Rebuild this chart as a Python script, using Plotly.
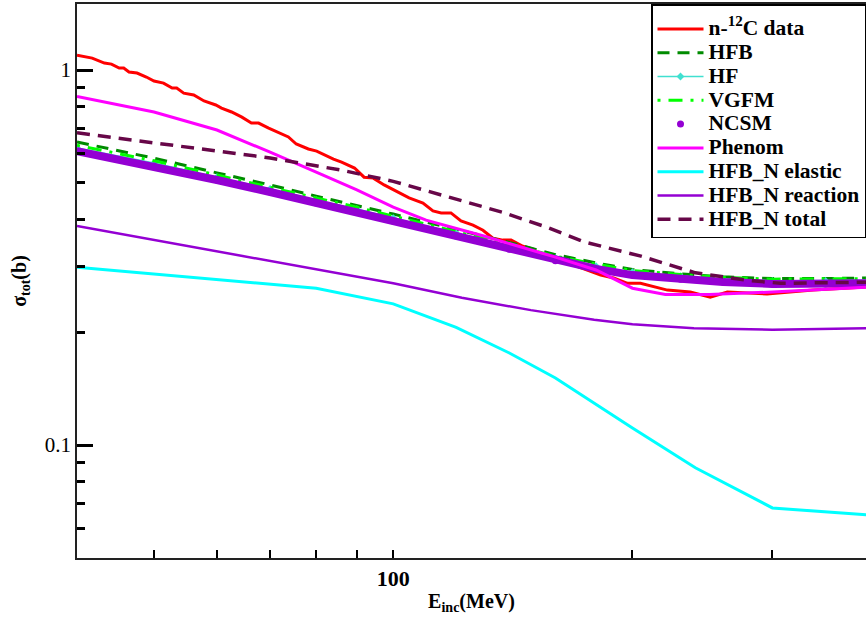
import math
import plotly.graph_objects as go

# ---------------- data ----------------
data_E = [40.0, 41.8, 43.3, 44.2, 45.2, 45.8, 46.5, 47.6, 48.9, 50.0, 51.4, 52.7, 53.4, 54.5,
          56.1, 57.8, 59.8, 60.8, 62.6, 64.5, 66.3, 67.7, 69.7, 71.7, 73.8, 75.5, 78.2, 80.1,
          82.4, 84.1, 86.1, 89.4, 91.9, 94.4, 97.4, 101.7, 104.7, 109.0, 112.2, 114.9, 118.2,
          121.7, 126.0, 129.7, 133.5, 137.4, 140.7, 145.6, 149.9, 153.4, 159.2, 163.9, 168.7,
          175.7, 182.4, 189.4, 197.2, 204.7, 221.3, 236.5, 250.6, 263.3, 295.4, 337.6, 393.4]
data_sig = [1.096, 1.076, 1.044, 1.037, 1.012, 1.012, 0.988, 0.982, 0.958, 0.935, 0.923, 0.895,
            0.895, 0.868, 0.858, 0.827, 0.807, 0.792, 0.773, 0.749, 0.722, 0.722, 0.700, 0.683,
            0.663, 0.635, 0.616, 0.608, 0.590, 0.579, 0.568, 0.548, 0.518, 0.515, 0.494, 0.470,
            0.456, 0.442, 0.421, 0.416, 0.416, 0.396, 0.386, 0.374, 0.356, 0.352, 0.352, 0.339,
            0.333, 0.321, 0.315, 0.310, 0.302, 0.293, 0.284, 0.279, 0.270, 0.270, 0.259, 0.256,
            0.248, 0.256, 0.253, 0.259, 0.264]

model_E = [40, 50, 60, 70, 80, 90, 100, 120, 140, 160, 180, 200, 230, 260, 300, 350, 400]
hfb_sig = [0.643, 0.582, 0.532, 0.494, 0.461, 0.436, 0.413, 0.376, 0.347, 0.322, 0.306, 0.294,
           0.286, 0.281, 0.278, 0.278, 0.279]
hf_sig = [0.620, 0.565, 0.518, 0.482, 0.450, 0.426, 0.403, 0.367, 0.339, 0.315, 0.300, 0.289,
          0.282, 0.277, 0.274, 0.274, 0.275]
vgfm_sig = [0.630, 0.573, 0.525, 0.488, 0.456, 0.431, 0.408, 0.372, 0.343, 0.319, 0.304, 0.292,
            0.285, 0.280, 0.277, 0.277, 0.278]
ncsm_sig = [0.608, 0.555, 0.509, 0.473, 0.442, 0.418, 0.396, 0.361, 0.333, 0.310, 0.295, 0.284,
            0.277, 0.272, 0.269, 0.269, 0.270]

phenom_E = [40, 50, 60, 70, 80, 90, 100, 110, 130, 160, 180, 200, 220, 250, 300, 400]
phenom_sig = [0.850, 0.773, 0.692, 0.604, 0.534, 0.479, 0.431, 0.398, 0.361, 0.317, 0.293,
              0.262, 0.252, 0.252, 0.256, 0.264]

elastic_E = [40, 80, 100, 120, 140, 160, 200, 240, 300, 400]
elastic_sig = [0.298, 0.262, 0.238, 0.206, 0.176, 0.151, 0.111, 0.087, 0.068, 0.065]

reaction_E = [40, 57, 86, 100, 122, 149, 179, 200, 239, 300, 400]
reaction_sig = [0.384, 0.335, 0.287, 0.270, 0.247, 0.229, 0.216, 0.210, 0.205, 0.203, 0.205]

total_E = [40, 57, 70, 86, 100, 137, 156, 174, 205, 240, 279, 307, 400]
total_sig = [0.680, 0.619, 0.583, 0.541, 0.505, 0.418, 0.381, 0.348, 0.319, 0.288, 0.275,
             0.270, 0.272]

x_major = [100]
x_minor = [50, 60, 70, 80, 90, 200, 300]
y_major = [0.1, 1]
y_major_text = ["0.1", "1"]
y_minor = [0.05, 0.06, 0.07, 0.08, 0.09, 0.2, 0.3, 0.4, 0.5, 0.6, 0.7, 0.8, 0.9]

# ---------------- figure ----------------
FONT = "Liberation Serif, Times New Roman, serif"


def lab(t):
    return '<span style="font-size:21.5px">' + t + '</span>'


fig = go.Figure()
fig.add_trace(go.Scatter(x=data_E, y=data_sig, mode="lines", name=lab("n-<sup>12</sup>C data"),
                         line=dict(color="#ff0000", width=3)))
fig.add_trace(go.Scatter(x=model_E, y=hfb_sig, mode="lines", name=lab("HFB"),
                         line=dict(color="#008b00", width=3, dash="12px,8px")))
fig.add_trace(go.Scatter(x=model_E, y=hf_sig, mode="lines+markers", name=lab("HF"),
                         line=dict(color="#40e0d0", width=1.5),
                         marker=dict(symbol="diamond", size=6, color="#40e0d0")))
fig.add_trace(go.Scatter(x=model_E, y=vgfm_sig, mode="lines", name=lab("VGFM"),
                         line=dict(color="#00ff00", width=3, dash="3px,8px,14px,8px")))
fig.add_trace(go.Scatter(x=model_E, y=ncsm_sig, mode="lines", showlegend=False,
                         legendgroup="ncsm", line=dict(color="#9400d3", width=8),
                         hoverinfo="skip"))
fig.add_trace(go.Scatter(x=model_E, y=ncsm_sig, mode="markers", name=lab("NCSM"),
                         legendgroup="ncsm",
                         marker=dict(symbol="circle", size=7, color="#9400d3")))
fig.add_trace(go.Scatter(x=phenom_E, y=phenom_sig, mode="lines", name=lab("Phenom"),
                         line=dict(color="#ff00ff", width=3)))
fig.add_trace(go.Scatter(x=elastic_E, y=elastic_sig, mode="lines", name=lab("HFB_N elastic"),
                         line=dict(color="#00ffff", width=3)))
fig.add_trace(go.Scatter(x=reaction_E, y=reaction_sig, mode="lines", name=lab("HFB_N reaction"),
                         line=dict(color="#9400d3", width=2.5)))
fig.add_trace(go.Scatter(x=total_E, y=total_sig, mode="lines", name=lab("HFB_N total"),
                         line=dict(color="#670748", width=3.5, dash="13px,8px")))

fig.update_layout(
    width=866, height=618,
    margin=dict(l=77, r=0, t=4, b=60),
    paper_bgcolor="white", plot_bgcolor="white",
    font=dict(family=FONT, color="black"),
    showlegend=True,
    legend=dict(x=1, y=1, xanchor="right", yanchor="top",
                bordercolor="black", borderwidth=1.5, bgcolor="white",
                font=dict(family=FONT, size=16, weight="bold"),
                title=dict(text=" ", font=dict(family=FONT, size=5)),
                itemwidth=46, tracegroupgap=0),
    xaxis=dict(type="log", range=[math.log10(40), math.log10(393.5)],
               showline=True, linecolor="#222", linewidth=1.5, mirror=True,
               showgrid=False, zeroline=False,
               tickmode="array", tickvals=x_major, ticktext=["100"],
               ticks="inside", ticklen=8, tickwidth=2, tickcolor="black",
               tickfont=dict(family=FONT, size=22, weight="bold"),
               minor=dict(tickmode="array", tickvals=x_minor, ticks="inside",
                          ticklen=8, tickwidth=2, tickcolor="black", showgrid=False),
               title=dict(text="E<sub>inc</sub>(MeV)", standoff=4,
                          font=dict(family=FONT, size=20, weight="bold")),
               automargin=False),
    yaxis=dict(type="log", range=[math.log10(0.05), math.log10(1.5)],
               showline=True, linecolor="#222", linewidth=1.5, mirror=False,
               showgrid=False, zeroline=False,
               tickmode="array", tickvals=y_major, ticktext=y_major_text,
               ticks="inside", ticklen=16, tickwidth=2.5, tickcolor="black",
               tickfont=dict(family=FONT, size=21),
               minor=dict(tickmode="array", tickvals=y_minor, ticks="inside",
                          ticklen=8, tickwidth=2.5, tickcolor="black", showgrid=False),
               title=dict(text="σ<sub>tot</sub>(b)", standoff=13,
                          font=dict(family=FONT, size=20, weight="bold")),
               automargin=False),
)

fig.write_html("out.html", config={"displayModeBar": False},
               post_script="document.body.style.margin='0px';")
